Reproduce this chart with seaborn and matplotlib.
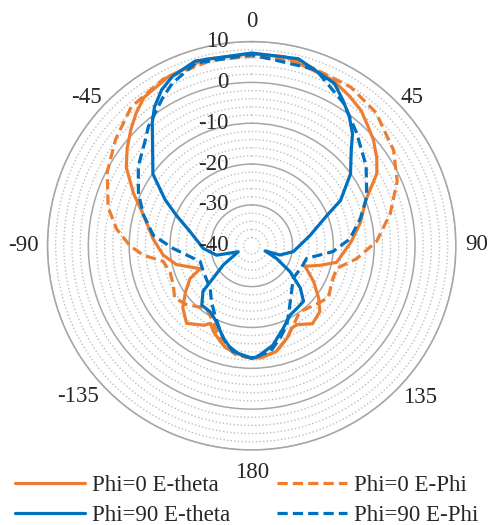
import numpy as np
import pandas as pd
import seaborn as sns
import matplotlib.pyplot as plt
from matplotlib.transforms import ScaledTranslation

# angles in degrees (clockwise from top), gain in dB
theta_p0_etheta = [-180, -176, -166, -162, -156, -152, -149, -140, -132, -125, -118, -114, -104, -96, -86, -74, -66, -58, -52, -46, -41, -36, -26, -14, 0,
                   10, 26, 33, 39, 44, 49, 55, 60, 68, 78, 88, 101, 106, 111, 120, 128, 134, 142, 150, 154, 159, 167, 175, 180]
gain_p0_etheta = [-12.5, -12.8, -14.2, -15.3, -17.0, -18.5, -17.3, -15.2, -17.3, -20.2, -22.9, -26.2, -21.0, -18.2, -15.8, -12.4, -8.3, -3.8, -1.3, 1.1, 3.1, 4.9, 6.2, 7.1, 7.0,
                  7.0, 5.2, 3.8, 2.6, 0.9, -0.5, -2.6, -4.6, -9.8, -12.8, -15.7, -18.8, -22.6, -26.0, -22.5, -19.2, -16.8, -15.8, -17.7, -17.6, -15.8, -13.4, -12.5, -12.5]

theta_p0_ephi = [-180, -172, -164, -158, -153, -144, -132, -124, -117, -108, -100, -95, -90, -83, -75, -63, -52, -41, -28, -12, 0,
                 15, 32, 43, 56, 66, 77, 88, 97, 105, 114, 124, 133, 144, 152, 159, 167, 175, 180]
gain_p0_ephi = [-12.5, -13.0, -14.7, -17.3, -19.2, -21.1, -18.5, -17.2, -18.5, -19.0, -18.0, -13.4, -10.2, -6.7, -3.6, -0.3, 2.3, 5.0, 6.2, 6.5, 6.4,
                6.6, 5.8, 4.6, 1.9, -1.0, -5.2, -9.4, -14.1, -18.5, -18.5, -17.3, -18.8, -20.0, -18.1, -15.8, -13.4, -12.7, -12.5]

theta_p90_etheta = [-180, -170, -163, -155, -148, -140, -133, -130, -124, -114, -105, -93, -77, -68, -62, -54, -43, -39, -35, -30, -25, -17, 0,
                    14, 27, 32, 37, 42, 46, 54, 63, 68, 80, 98, 108, 111, 117, 124, 131, 137, 144, 151, 159, 168, 177, 180]
gain_p90_etheta = [-12.5, -13.7, -16.3, -19.5, -20.9, -21.0, -23.7, -27.7, -31.6, -36.4, -31.1, -28.1, -24.5, -20.1, -16.0, -10.1, -4.4, -1.3, 1.5, 4.1, 5.8, 7.3, 7.2,
                   7.2, 4.6, 2.1, -0.3, -3.1, -6.1, -10.1, -15.6, -20.1, -25.5, -29.7, -32.7, -36.5, -33.2, -28.7, -24.2, -21.4, -21.1, -20.6, -18.4, -15.1, -12.8, -12.5]

theta_p90_ephi = [-180, -174, -166, -160, -152, -144, -136, -118, -107, -92, -84, -74, -65, -55, -45, -41, -36, -31, -26, -17, 0,
                  20, 33, 43, 55, 67, 76, 86, 94, 103, 113, 128, 139, 149, 156, 163, 170, 180]
gain_p90_ephi = [-12.5, -13.1, -15.0, -17.6, -20.8, -23.2, -25.4, -26.6, -26.8, -20.8, -15.8, -12.4, -9.4, -6.1, -3.2, -1.4, 0.2, 2.3, 4.3, 6.8, 6.8,
                 5.9, 1.5, -2.3, -5.8, -9.4, -12.6, -15.9, -20.0, -26.2, -26.7, -27.1, -25.1, -22.1, -18.8, -16.3, -13.7, -12.5]

names = ['Phi=0 E-theta', 'Phi=0 E-Phi', 'Phi=90 E-theta', 'Phi=90 E-Phi']
thetas = [theta_p0_etheta, theta_p0_ephi, theta_p90_etheta, theta_p90_ephi]
gains = [gain_p0_etheta, gain_p0_ephi, gain_p90_etheta, gain_p90_ephi]
colors = ['#ED7D31', '#ED7D31', '#0070C0', '#0070C0']
dashed = [False, True, False, True]

r_ticks = [-40, -30, -20, -10, 0, 10]
angle_ticks = [0, 45, 90, 135, 180, 225, 270, 315]
angle_labels = ['0', '45', '90', '135', '180', '-135', '-90', '-45']
# where each angle label sits: direction (deg) and radius (dB units, past the rim)
label_dir = [0, 47.3, 89.8, 131.9, 180, 229, 270, 311.8]
label_rad = [15.0, 13.4, 15.2, 15.5, 15.6, 16.3, 15.8, 14.4]

sns.set_theme(style='white')
plt.rcParams['font.family'] = ['Liberation Serif', 'DejaVu Serif']
plt.rcParams['font.size'] = 16.5

fig = plt.figure(figsize=(4.9, 5.25), dpi=100)
ax = fig.add_axes([0.0969, 0.1429, 0.8335, 0.7779], projection='polar')
ax.set_theta_zero_location('N')
ax.set_theta_direction(-1)

for name, th, g, c, d in zip(names, thetas, gains, colors, dashed):
    df = pd.DataFrame({'theta': np.radians(th), 'gain': g})
    sns.lineplot(data=df, x='theta', y='gain', ax=ax, sort=False, estimator=None,
                 color=c, lw=2.3, label=name, legend=False)
    if d:
        ax.lines[-1].set_dashes((3.2, 1.6))

ax.set_ylim(-40, 10)
ax.set_yticks(r_ticks)
ax.set_yticks(np.arange(-38, 10, 2), minor=True)
ax.set_yticklabels([])
ax.yaxis.grid(True, which='major', color='#A6A6A6', lw=1.1, ls='-')
ax.yaxis.grid(True, which='minor', color='#BFBFBF', lw=1.0, ls=(0, (1, 1.6)))
ax.xaxis.grid(False)
ax.spines['polar'].set_color('#A6A6A6')
ax.spines['polar'].set_linewidth(1.1)
ax.set_xticks(np.radians(angle_ticks))
ax.set_xticklabels([])
ax.tick_params(axis='both', which='both', length=0)
ax.set_xlabel('')
ax.set_ylabel('')

for a, r, s in zip(label_dir, label_rad, angle_labels):
    ax.text(np.radians(a), r, s, ha='center', va='center', fontsize=16.5, clip_on=False)

# radial labels along the 0 direction, just left of the centre
shift = ax.transData + ScaledTranslation(-0.23, 0, fig.dpi_scale_trans)
for r in r_ticks:
    ax.text(0, r, str(r), transform=shift, ha='right', va='center', fontsize=16.5)

h, l = ax.get_legend_handles_labels()
order = [0, 2, 1, 3]
fig.legend([h[i] for i in order], [l[i] for i in order], loc='center', bbox_to_anchor=(0.503, 0.047),
           ncol=2, frameon=False, handlelength=3.05, handletextpad=0.3, columnspacing=2.03,
           labelspacing=0.39, borderpad=0, borderaxespad=0, fontsize=16.5)

fig.savefig('out.png', dpi=100)
